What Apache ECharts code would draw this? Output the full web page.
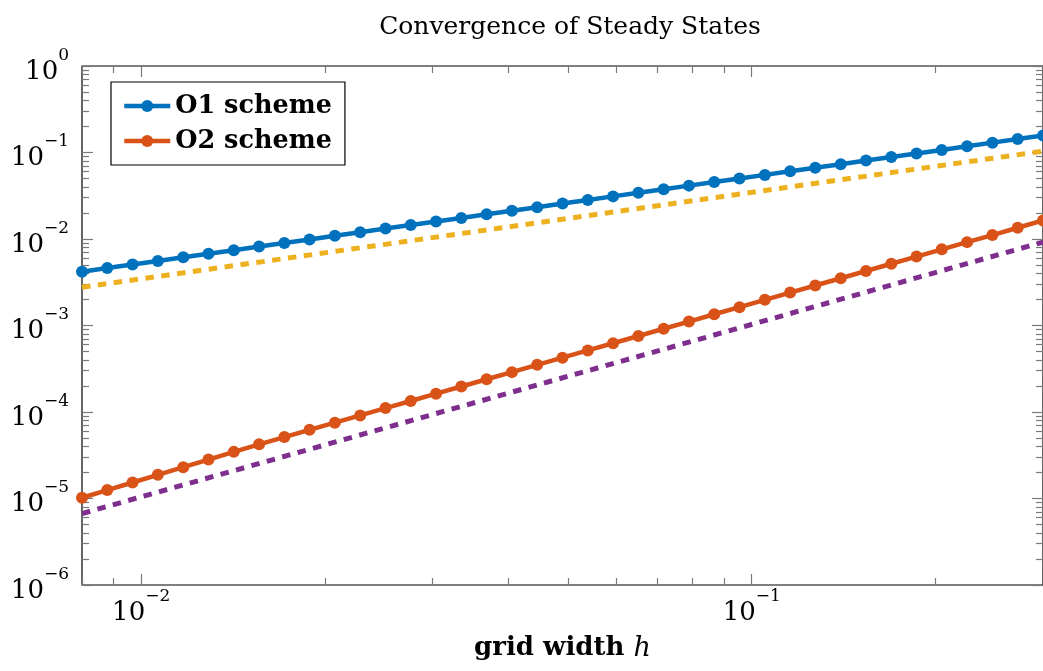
<!DOCTYPE html>
<html>
<head>
<meta charset="utf-8">
<script src="https://cdn.jsdelivr.net/npm/echarts@6/dist/echarts.min.js"></script>
<style>
  html, body { margin: 0; padding: 0; background: #fff; }
  #main { width: 1043px; height: 671px; }
</style>
</head>
<body>
<div id="main"></div>
<script>
// grid widths h (log spaced) and errors
var gridWidth = [0.00800, 0.00880, 0.00968, 0.01065, 0.01172, 0.01289, 0.01418, 0.01560, 0.01716, 0.01887,
  0.02076, 0.02284, 0.02513, 0.02764, 0.03041, 0.03345, 0.03680, 0.04048, 0.04453, 0.04899,
  0.05389, 0.05928, 0.06522, 0.07174, 0.07892, 0.08682, 0.09550, 0.1051, 0.1156, 0.1271,
  0.1399, 0.1539, 0.1693, 0.1862, 0.2048, 0.2253, 0.2479, 0.2727, 0.3000];
var o1Error = [0.00419, 0.00461, 0.00507, 0.00558, 0.00614, 0.00675, 0.00743, 0.00817, 0.00899, 0.00989,
  0.0109, 0.0120, 0.0132, 0.0145, 0.0159, 0.0175, 0.0193, 0.0212, 0.0233, 0.0257,
  0.0282, 0.0311, 0.0342, 0.0376, 0.0414, 0.0455, 0.0500, 0.0551, 0.0606, 0.0666,
  0.0733, 0.0806, 0.0887, 0.0976, 0.107, 0.118, 0.130, 0.143, 0.157];
var o2Error = [1.02e-5, 1.25e-5, 1.53e-5, 1.88e-5, 2.30e-5, 2.82e-5, 3.46e-5, 4.23e-5, 5.13e-5, 6.22e-5,
  7.53e-5, 9.13e-5, 1.11e-4, 1.34e-4, 1.63e-4, 1.97e-4, 2.39e-4, 2.89e-4, 3.51e-4, 4.25e-4,
  5.15e-4, 6.24e-4, 7.56e-4, 9.17e-4, 1.11e-3, 1.35e-3, 1.63e-3, 1.98e-3, 2.40e-3, 2.90e-3,
  3.52e-3, 4.27e-3, 5.17e-3, 6.26e-3, 7.59e-3, 9.20e-3, 1.11e-2, 1.35e-2, 1.64e-2];

// reference slopes (dotted)
var refH = [0.008, 0.3];
var refOrder1 = [0.00277, 0.1037];
var refOrder2 = [6.7e-6, 9.2e-3];

// ticks
var xMajorTicks = [0.01, 0.1];
var xMinorTicks = [0.008, 0.009, 0.02, 0.03, 0.04, 0.05, 0.06, 0.07, 0.08, 0.09, 0.2, 0.3];
var yMajorTicks = [1e-6, 1e-5, 1e-4, 1e-3, 1e-2, 1e-1, 1];
var yMinorTicks = [];
for (var e = -6; e < 0; e++) {
  for (var k = 2; k <= 9; k++) yMinorTicks.push(parseFloat((k * Math.pow(10, e)).toPrecision(6)));
}

var serif = 'DejaVu Serif';
var blue = '#0072BD', orange = '#D95319', yellow = '#EDB120', purple = '#7E2F8E';

var myChart = echarts.init(document.getElementById('main'), null, { renderer: 'canvas' });

function powLabel(v) {
  var ex = Math.round(Math.log10(v));
  return '{b|10}{s|' + (ex < 0 ? '\u2212' + (-ex) : ex) + '}';
}
var supRich = {
  b: { fontFamily: serif, fontSize: 26, lineHeight: 38, verticalAlign: 'bottom', color: '#000' },
  s: { fontFamily: serif, fontSize: 17, verticalAlign: 'top', color: '#000' }
};

function pairs(xs, ys) {
  return xs.map(function (x, i) { return [x, ys[i]]; });
}

function xAxisDef(pos, ticks, len, labels) {
  return {
    type: 'log', logBase: 10, min: 0.008, max: 0.3, position: pos,
    axisLine: { show: false },
    splitLine: { show: false },
    axisTick: { show: true, inside: true, length: len, customValues: ticks,
      lineStyle: { color: '#7a7a7a', width: 1.2 } },
    axisLabel: labels ? { show: true, customValues: ticks, formatter: powLabel, rich: supRich, margin: 3 }
                      : { show: false }
  };
}
function yAxisDef(pos, ticks, len, labels) {
  return {
    type: 'log', logBase: 10, min: 1e-6, max: 1, position: pos,
    axisLine: { show: false },
    splitLine: { show: false },
    axisTick: { show: true, inside: true, length: len, customValues: ticks,
      lineStyle: { color: '#7a7a7a', width: 1.2 } },
    axisLabel: labels ? { show: true, customValues: ticks, formatter: powLabel, rich: supRich, margin: 13 }
                      : { show: false }
  };
}

var xMain = xAxisDef('bottom', xMajorTicks, 11, true);
xMain.name = '{b|grid width }{i|h}';
xMain.nameLocation = 'middle';
xMain.nameGap = 50;
xMain.nameTextStyle = {
  rich: {
    b: { fontFamily: serif, fontWeight: 'bold', fontSize: 26, color: '#000' },
    i: { fontFamily: serif, fontStyle: 'italic', fontSize: 27, color: '#000' }
  }
};

var option = {
  animation: false,
  backgroundColor: '#fff',
  textStyle: { fontFamily: serif },
  title: {
    text: 'Convergence of Steady States',
    left: 565, textAlign: 'center', top: 10,
    textStyle: { fontFamily: serif, fontWeight: 'normal', fontSize: 25, color: '#000' }
  },
  legend: {
    data: ['O1 scheme', 'O2 scheme'],
    orient: 'vertical',
    left: 111, top: 82,
    padding: [11, 13, 11, 11],
    itemGap: 9, itemWidth: 46, itemHeight: 15,
    lineStyle: { width: 4.5 },
    backgroundColor: '#fff', borderColor: '#000', borderWidth: 1.2, borderRadius: 0,
    textStyle: { fontFamily: serif, fontWeight: 'bold', fontSize: 25.5, color: '#000' }
  },
  grid: {
    left: 82, top: 66, right: -6, bottom: 86,
    show: true, borderColor: '#000', borderWidth: 1.2, backgroundColor: 'transparent'
  },
  xAxis: [
    xMain,
    xAxisDef('bottom', xMinorTicks, 7, false),
    xAxisDef('top', xMajorTicks, 11, false),
    xAxisDef('top', xMinorTicks, 7, false)
  ],
  yAxis: [
    yAxisDef('left', yMajorTicks, 11, true),
    yAxisDef('left', yMinorTicks, 7, false),
    yAxisDef('right', yMajorTicks, 11, false),
    yAxisDef('right', yMinorTicks, 7, false)
  ],
  series: [
    {
      name: 'ref1', type: 'line', data: pairs(refH, refOrder1), symbol: 'none', silent: true, z: 3,
      lineStyle: { color: yellow, width: 5, type: [8.5, 7.5] }
    },
    {
      name: 'ref2', type: 'line', data: pairs(refH, refOrder2), symbol: 'none', silent: true, z: 3,
      lineStyle: { color: purple, width: 5, type: [8.5, 7.5] }
    },
    {
      name: 'O1 scheme', type: 'line', data: pairs(gridWidth, o1Error), z: 4,
      symbol: 'circle', symbolSize: 12,
      lineStyle: { color: blue, width: 4.5 }, itemStyle: { color: blue }
    },
    {
      name: 'O2 scheme', type: 'line', data: pairs(gridWidth, o2Error), z: 4,
      symbol: 'circle', symbolSize: 12,
      lineStyle: { color: orange, width: 4.5 }, itemStyle: { color: orange }
    }
  ]
};

myChart.setOption(option);
window.addEventListener('resize', function () {
  myChart.resize();
});
</script>
</body>
</html>
